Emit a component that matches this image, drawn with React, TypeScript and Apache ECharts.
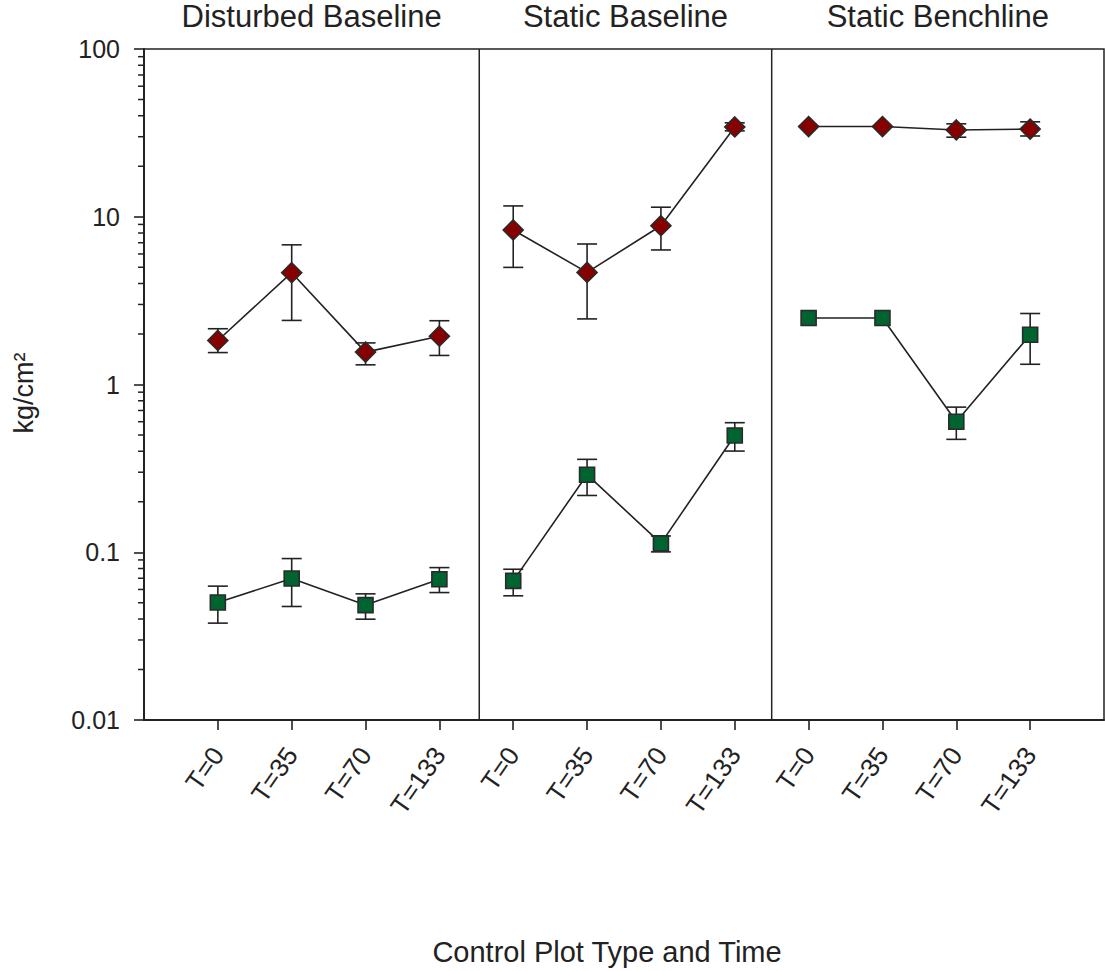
import React, { useEffect, useRef } from "react";
import * as echarts from "echarts";

// Sampling times within each control plot type
const timeLabels = ["T=0", "T=35", "T=70", "T=133"];
const panelNames = ["Disturbed Baseline", "Static Baseline", "Static Benchline"];

// Upper group (diamonds), kg/cm², 4 times per panel
const redMean = [1.83, 4.64, 1.56, 1.94, 8.34, 4.66, 8.84, 34.3, 34.5, 34.5, 32.9, 33.3];
const redUpper = [2.15, 6.8, 1.77, 2.4, 11.6, 6.88, 11.4, 36.3, null, null, 35.8, 36.8];
const redLower = [1.55, 2.41, 1.31, 1.49, 4.99, 2.46, 6.34, 32.5, null, null, 29.8, 30.3];

// Lower group (squares), kg/cm²
const greenMean = [0.0502, 0.0697, 0.0484, 0.069, 0.0675, 0.29, 0.113, 0.497, 2.49, 2.49, 0.6, 1.98];
const greenUpper = [0.0628, 0.0917, 0.0565, 0.081, 0.0792, 0.358, 0.125, 0.592, null, null, 0.733, 2.65];
const greenLower = [0.0378, 0.0475, 0.0399, 0.0575, 0.055, 0.218, 0.1005, 0.401, null, null, 0.471, 1.32];

// Minor tick positions on the log axis
const minorTickValues = [
  0.02, 0.03, 0.04, 0.05, 0.06, 0.07, 0.08, 0.09,
  0.2, 0.3, 0.4, 0.5, 0.6, 0.7, 0.8, 0.9,
  2, 3, 4, 5, 6, 7, 8, 9,
  20, 30, 40, 50, 60, 70, 80, 90,
];

// Panel dividers (in x-axis units)
const dividerPositions = [4.54, 8.5];

const FONT = "'Liberation Sans', Arial, Helvetica, sans-serif";
const INK = "#222222";
const RED = "#870000";
const GREEN = "#006430";

const W = 1105;
const H = 971;
const GRID_LEFT = 144;
const GRID_RIGHT = 1;
const GRID_TOP = 49;
const GRID_BOTTOM = 251;

function xPos(panel: number, i: number) {
  return panel * 4 + i + 1;
}

function buildOption() {
  const lineSeries: any[] = [];
  const groups = [
    { mean: redMean, symbol: "diamond", size: 20, color: RED },
    { mean: greenMean, symbol: "rect", size: 15, color: GREEN },
  ];
  groups.forEach((g, gi) => {
    panelNames.forEach((_, p) => {
      lineSeries.push({
        type: "line",
        name: `g${gi}p${p}`,
        data: timeLabels.map((_, i) => [xPos(p, i), g.mean[p * 4 + i]]),
        symbol: g.symbol,
        symbolSize: g.size,
        showSymbol: true,
        lineStyle: { color: INK, width: 1.6 },
        itemStyle: { color: g.color, borderColor: "#2a2a2a", borderWidth: 1.6 },
        z: 5,
        silent: true,
      });
    });
  });

  const errData: any[] = [];
  [
    [redLower, redUpper],
    [greenLower, greenUpper],
  ].forEach(([lo, hi]) => {
    for (let k = 0; k < 12; k++) {
      if (lo[k] != null && hi[k] != null) {
        const p = Math.floor(k / 4);
        errData.push([xPos(p, k % 4), lo[k], hi[k]]);
      }
    }
  });

  const errorSeries = {
    type: "custom",
    name: "errors",
    data: errData,
    z: 3,
    silent: true,
    renderItem: (params: any, api: any) => {
      const x = api.value(0);
      const lo = api.coord([x, api.value(1)]);
      const hi = api.coord([x, api.value(2)]);
      const hw = 10;
      const style = { stroke: INK, lineWidth: 1.6 };
      return {
        type: "group",
        children: [
          { type: "line", shape: { x1: lo[0], y1: lo[1], x2: hi[0], y2: hi[1] }, style },
          { type: "line", shape: { x1: hi[0] - hw, y1: hi[1], x2: hi[0] + hw, y2: hi[1] }, style },
          { type: "line", shape: { x1: lo[0] - hw, y1: lo[1], x2: lo[0] + hw, y2: lo[1] }, style },
        ],
      };
    },
  };

  const minorTickSeries = {
    type: "custom",
    name: "minorTicks",
    data: minorTickValues.map((v) => [0, v]),
    clip: false,
    silent: true,
    z: 6,
    renderItem: (params: any, api: any) => {
      const pt = api.coord([0, api.value(1)]);
      return {
        type: "line",
        shape: { x1: pt[0] - 6, y1: pt[1], x2: pt[0], y2: pt[1] },
        style: { stroke: INK, lineWidth: 1.5 },
      };
    },
  };

  const dividerSeries = {
    type: "custom",
    name: "dividers",
    data: dividerPositions.map((x) => [x]),
    silent: true,
    clip: false,
    z: 4,
    renderItem: (params: any, api: any) => {
      const top = api.coord([api.value(0), 100]);
      const bot = api.coord([api.value(0), 0.01]);
      return {
        type: "line",
        shape: { x1: top[0], y1: top[1], x2: bot[0], y2: bot[1] },
        style: { stroke: INK, lineWidth: 1.5 },
      };
    },
  };

  const tickIdx = Array.from({ length: 12 }, (_, k) => k + 1);
  const plotW = W - GRID_LEFT - GRID_RIGHT;

  return {
    animation: false,
    backgroundColor: "#ffffff",
    textStyle: { fontFamily: FONT },
    title: [
      ...panelNames.map((name, p) => {
        const left = GRID_LEFT + ((p === 0 ? 0 : dividerPositions[p - 1]) + (p === 2 ? 13 : dividerPositions[p])) / 2 / 13 * plotW;
        return {
          text: name,
          left,
          top: 1,
          padding: 0,
          textAlign: "center",
          textStyle: { fontFamily: FONT, fontSize: 31, fontWeight: "normal", color: INK },
        };
      }),
      {
        text: "Control Plot Type and Time",
        left: 607,
        top: 937,
        padding: 0,
        textAlign: "center",
        textStyle: { fontFamily: FONT, fontSize: 29, fontWeight: "normal", color: INK },
      },
    ],
    graphic: [
      {
        type: "text",
        x: 24,
        y: 393,
        rotation: Math.PI / 2,
        style: {
          text: "kg/cm²",
          fontFamily: FONT,
          fontSize: 27,
          fill: INK,
          align: "center",
          verticalAlign: "middle",
        },
      },
    ],
    grid: {
      left: GRID_LEFT,
      right: GRID_RIGHT,
      top: GRID_TOP,
      bottom: GRID_BOTTOM,
      show: true,
      borderColor: INK,
      borderWidth: 1.5,
      backgroundColor: "transparent",
    },
    xAxis: {
      type: "value",
      min: 0,
      max: 13,
      interval: 1,
      splitLine: { show: false },
      axisLine: { show: true, lineStyle: { color: INK, width: 1.8 } },
      axisTick: { show: true, customValues: tickIdx, length: 10, lineStyle: { color: INK, width: 1.6 } },
      axisLabel: {
        customValues: tickIdx,
        rotate: 55,
        margin: 30,
        fontSize: 26,
        fontFamily: FONT,
        color: INK,
        formatter: (v: number) => timeLabels[(Math.round(v) - 1) % 4],
      },
    },
    yAxis: {
      type: "log",
      logBase: 10,
      min: 0.01,
      max: 100,
      splitLine: { show: false },
      minorTick: { show: false },
      axisLine: { show: true, lineStyle: { color: INK, width: 2 } },
      axisTick: { show: true, length: 10, lineStyle: { color: INK, width: 1.6 } },
      axisLabel: {
        margin: 24,
        fontSize: 25,
        fontFamily: FONT,
        color: INK,
        formatter: (v: number) => String(parseFloat(Number(v).toPrecision(3))),
      },
    },
    series: [dividerSeries, errorSeries, ...lineSeries, minorTickSeries],
  };
}

export default function App() {
  const ref = useRef<HTMLDivElement>(null);
  useEffect(() => {
    if (!ref.current) return;
    const chart = echarts.init(ref.current, undefined, { renderer: "svg" });
    chart.setOption(buildOption() as any);
    return () => chart.dispose();
  }, []);
  return (
    <div
      ref={ref}
      style={{ position: "fixed", left: 0, top: 0, width: W, height: H, background: "#fff" }}
    />
  );
}
